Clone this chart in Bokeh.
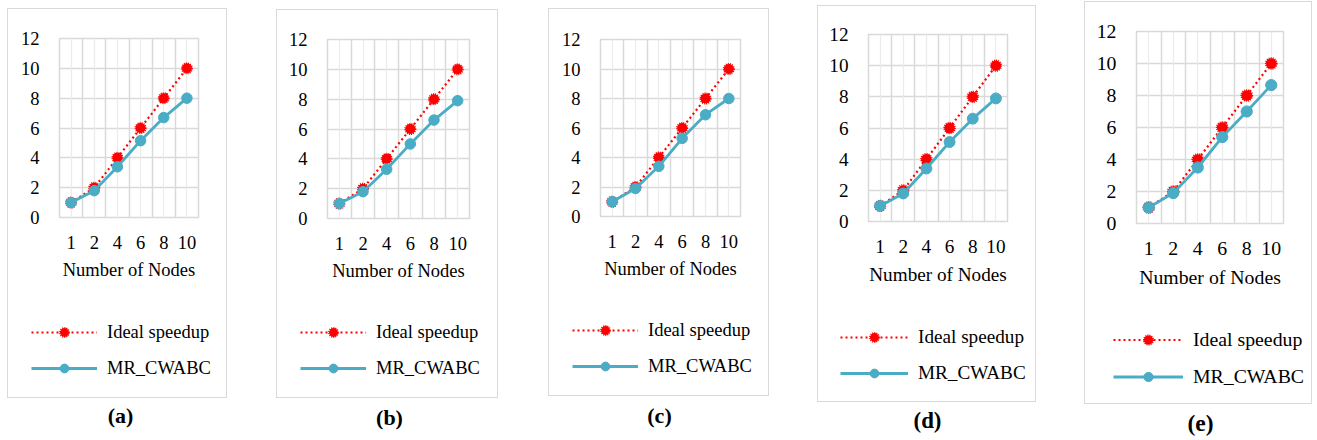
import numpy as np
from bokeh.plotting import figure
from bokeh.models import (Range1d, FixedTicker, Grid, Legend, LegendItem, Label)
from bokeh.layouts import row, column
from bokeh.embed import file_html
from bokeh.resources import INLINE

# ---------------- data ----------------
nodes = ["1", "2", "4", "6", "8", "10"]
ideal_speedup = [1, 2, 4, 6, 8, 10]
mr_cwabc_a = [1.0, 1.8, 3.4, 5.15, 6.7, 8.0]
mr_cwabc_b = [1.0, 1.8, 3.3, 5.0, 6.6, 7.9]
mr_cwabc_c = [1.0, 1.9, 3.4, 5.3, 6.9, 8.0]
mr_cwabc_d = [1.0, 1.8, 3.4, 5.1, 6.6, 7.9]
mr_cwabc_e = [1.0, 1.9, 3.5, 5.4, 7.0, 8.65]
panel_labels = ["(a)", "(b)", "(c)", "(d)", "(e)"]
y_ticks = [0, 2, 4, 6, 8, 10, 12]
series_names = ["Ideal speedup", "MR_CWABC"]

mr_series = [mr_cwabc_a, mr_cwabc_b, mr_cwabc_c, mr_cwabc_d, mr_cwabc_e]

# ---------------- layout (page pixel positions) ----------------
layout = [
    dict(slot=(0, 251), box=(7, 8, 227, 398), frame=(59, 38, 198, 217), leg=(31, 332), lab=(120, 415), s=1.0),
    dict(slot=(251, 523), box=(276, 9, 498, 398), frame=(327, 39, 469, 218), leg=(300, 332), lab=(389, 417), s=1.0),
    dict(slot=(523, 793), box=(548, 8, 769, 396), frame=(600, 39, 740, 216), leg=(572, 330), lab=(659, 415), s=1.0),
    dict(slot=(793, 1060), box=(817, 5, 1036, 402), frame=(868, 34, 1007, 221), leg=(840, 335), lab=(927, 420), s=1.04),
    dict(slot=(1060, 1317), box=(1084, 1, 1312, 404), frame=(1136, 31, 1283, 223), leg=(1113, 338), lab=(1200, 422), s=1.07),
]

FONT = "Liberation Serif"
GRID = "#D9D9D9"
GRID_MINOR = "#EBEBEB"
TEAL = "#4BACC6"
RED = "#FF0000"

H = 440
cols = []
xs = np.arange(len(nodes)) + 0.5


def add_series(fig, mr, s):
    l1 = fig.line(xs, ideal_speedup, line_color=RED, line_width=2.2, line_dash="2 3")
    m1 = fig.scatter(xs, ideal_speedup, marker="circle", size=10 * s, fill_color=RED,
                     line_color=RED, line_width=2, line_dash="1 1")
    l2 = fig.line(xs, mr, line_color=TEAL, line_width=2.8)
    m2 = fig.scatter(xs, mr, marker="circle", size=10.5 * s, fill_color=TEAL,
                     line_color=TEAL)
    return l1, m1, l2, m2


def bare_figure(w, h, xr, yr):
    f = figure(width=w, height=h, output_backend="svg", toolbar_location=None,
               x_range=xr, y_range=yr, min_border=0,
               x_axis_location=None, y_axis_location=None)
    f.grid.visible = False
    f.outline_line_color = None
    f.border_fill_alpha = 0
    f.background_fill_alpha = 0
    return f


for i, L in enumerate(layout):
    x0, x1 = L["slot"]
    bl, bt, br, bb = L["box"]
    fl, ft, fr, fb = L["frame"]
    s = L["s"]
    fs = f"{round(18.5 * s, 1)}px"
    split = fb + int(85 * s)
    bw = br - bl

    # ---- chart ----
    p = figure(width=bw, height=split - bt, output_backend="svg", toolbar_location=None,
               x_range=Range1d(0, len(nodes)), y_range=Range1d(0, 12),
               min_border_left=fl - bl, min_border_right=br - fr,
               min_border_top=ft - bt, min_border_bottom=split - fb)
    p.background_fill_color = "white"
    p.border_fill_alpha = 0
    p.outline_line_color = GRID
    p.outline_line_width = 1.5

    p.xaxis.ticker = FixedTicker(ticks=list(xs))
    p.xaxis.major_label_overrides = {float(x): n for x, n in zip(xs, nodes)}
    p.yaxis.ticker = FixedTicker(ticks=y_ticks)
    for ax in (p.xaxis[0], p.yaxis[0]):
        ax.axis_line_color = None
        ax.major_tick_line_color = None
        ax.minor_tick_line_color = None
        ax.major_label_text_font = FONT
        ax.major_label_text_font_size = fs
        ax.major_label_text_color = "#000000"
    p.xaxis.major_label_standoff = int(12 * s)
    p.yaxis.major_label_standoff = int(14 * s)
    p.xaxis.axis_label = "Number of Nodes"
    p.xaxis.axis_label_text_font = FONT
    p.xaxis.axis_label_text_font_size = fs
    p.xaxis.axis_label_text_font_style = "normal"
    p.xaxis.axis_label_text_color = "#000000"
    p.xaxis.axis_label_standoff = int(8 * s)

    p.xgrid.ticker = FixedTicker(ticks=list(range(len(nodes) + 1)))
    p.xgrid.grid_line_color = GRID
    p.xgrid.grid_line_width = 1.5
    p.add_layout(Grid(dimension=0, ticker=FixedTicker(ticks=list(xs)),
                      grid_line_color=GRID_MINOR, grid_line_width=1.2))
    p.ygrid.grid_line_color = GRID
    p.ygrid.grid_line_width = 1.5

    add_series(p, mr_series[i], s)

    # ---- legend area (inside the same box) ----
    lfh = bb - split
    g = bare_figure(bw, lfh, Range1d(100, 101), Range1d(100, 101))
    l1, m1, l2, m2 = add_series(g, mr_series[i], s)
    lx, ly = L["leg"]
    gh = 22 * s
    sp = 36 * s - gh
    leg_h = 2 * gh + sp
    top_wanted = ly - gh / 2 - split
    legend = Legend(items=[LegendItem(label=series_names[0], renderers=[l1, m1]),
                           LegendItem(label=series_names[1], renderers=[l2, m2])],
                    glyph_width=int(66 * s), glyph_height=int(gh), label_height=int(gh),
                    label_standoff=int(10 * s), spacing=int(sp), padding=0, margin=0,
                    border_line_color=None, background_fill_alpha=0,
                    label_text_font=FONT, label_text_font_size=fs,
                    label_text_color="#000000",
                    location=(lx - bl, lfh - top_wanted - leg_h))
    g.add_layout(legend, "center")

    boxed = column(row(p, spacing=0), row(g, spacing=0), spacing=0,
                   margin=(bt, x1 - br, 0, bl - x0),
                   styles={"outline": "1.5px solid #D9D9D9", "outline-offset": "-1px"})

    # ---- caption ----
    cx, cy = L["lab"]
    lw, lh = x1 - x0, H - bb
    q = bare_figure(lw, lh, Range1d(0, lw), Range1d(0, lh))
    q.add_layout(Label(x=cx - x0, y=lh - (cy - bb), text=panel_labels[i],
                       text_align="center", text_baseline="middle",
                       text_font=FONT, text_font_style="bold",
                       text_font_size=f"{round(22 * s, 1)}px", text_color="#000000"))
    cols.append(column(boxed, q, spacing=0))

layout_row = row(*cols, spacing=0)
open("out.html", "w").write(file_html(layout_row, INLINE))
